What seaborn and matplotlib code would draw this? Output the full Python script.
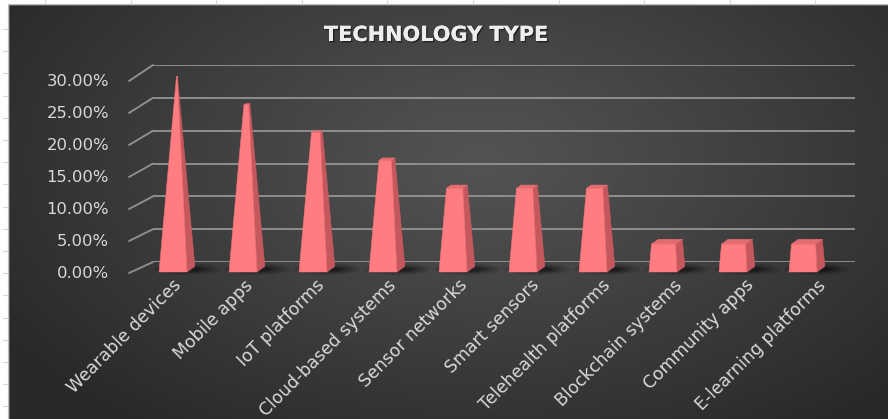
import numpy as np
import pandas as pd
import matplotlib
matplotlib.use("Agg")
import matplotlib.pyplot as plt
import seaborn as sns
from matplotlib.patches import Polygon, Ellipse, Rectangle
from matplotlib.lines import Line2D
from matplotlib.transforms import ScaledTranslation, blended_transform_factory
import matplotlib.patheffects as pe

# ---------------- data ----------------
categories = ["Wearable devices", "Mobile apps", "IoT platforms", "Cloud-based systems",
              "Sensor networks", "Smart sensors", "Telehealth platforms",
              "Blockchain systems", "Community apps", "E-learning platforms"]
shares = [29.17, 25.00, 20.83, 16.67, 12.50, 12.50, 12.50, 4.17, 4.17, 4.17]
y_ticks = [0, 5, 10, 15, 20, 25, 30]
y_labels = ["0.00%", "5.00%", "10.00%", "15.00%", "20.00%", "25.00%", "30.00%"]
title = "TECHNOLOGY TYPE"

sns.set_theme(style="white")
plt.rcParams["font.family"] = ["DejaVu Sans"]

W, H = 888, 419
fig = plt.figure(figsize=(8.88, 4.19), dpi=100)


def fx(px):
    return px / W


def fy(py):
    return 1 - py / H


# ---------------- background ----------------
bg = fig.add_axes([0, 0, 1, 1])
bg.set_axis_off()
yy, xx = np.mgrid[0:H, 0:W]
r = np.sqrt(((xx - 480) / 560.0) ** 2 + ((yy - 160) / 330.0) ** 2)
r = np.clip(r, 0, 1) ** 1.1
inner = np.array([0x53, 0x53, 0x53]) / 255.0
outer = np.array([0x29, 0x29, 0x29]) / 255.0
img = inner[None, None, :] * (1 - r[..., None]) + outer[None, None, :] * r[..., None]
bg.imshow(img, extent=[0, W, H, 0], aspect="auto", interpolation="bilinear")
bg.set_xlim(0, W)
bg.set_ylim(H, 0)
bg.add_patch(Rectangle((0, 0), 8, H, color="white", zorder=3))
bg.add_patch(Rectangle((0, 0), W, 4, color="white", zorder=3))
bg.plot([8, 8], [4, H], color="#bdbdbd", lw=0.8, zorder=4)
bg.plot([8, W], [4, 4], color="#bdbdbd", lw=0.8, zorder=4)
for k in range(18):
    yk = 29 + 22.2 * k
    if yk < H:
        bg.plot([3, 8], [yk, yk], color="#d6d6d6", lw=0.8, zorder=4)
for k in range(11):
    xk = 45 + 85.6 * k
    if xk < W:
        bg.plot([xk, xk], [0, 4], color="#d6d6d6", lw=0.8, zorder=4)

# ---------------- back wall gridlines ----------------
ax_back = fig.add_axes([fx(153), fy(262), fx(855) - fx(153), fy(65) - fy(262)])
ax_back.set_ylim(0, 30)
ax_back.set_xlim(0, 1)
ax_back.set_axis_off()
ax_back.hlines(y_ticks, 0, 1, color="#8e8e8e", lw=1.4)

# ---------------- front value axis (labels + connectors) ----------------
ax_front = fig.add_axes([fx(129), fy(273), fx(831) - fx(129), fy(81) - fy(273)])
ax_front.set_ylim(0, 30)
ax_front.set_xlim(0, 1)
ax_front.set_axis_off()
lab_tr = blended_transform_factory(fig.transFigure, ax_front.transData)
for v, lab in zip(y_ticks, y_labels):
    ax_front.text(fx(109), v, lab, transform=lab_tr, ha="right", va="center",
                  fontsize=11.8, color="#d9d9d9")
    f = fig.transFigure.inverted().transform(ax_front.transData.transform((0, v)))
    b = fig.transFigure.inverted().transform(ax_back.transData.transform((0, v)))
    fig.add_artist(Line2D([f[0], b[0]], [f[1], b[1]], transform=fig.transFigure,
                          color="#8e8e8e", lw=1.4))

# ---------------- bars ----------------
ax = fig.add_axes([fx(129), fy(272), fx(831) - fx(129), fy(74) - fy(272)])
df = pd.DataFrame({"category": categories, "share": shares})
sns.barplot(data=df, x="category", y="share", width=0.4, color="#FF7C80", ax=ax)
ax.set_xlim(-0.629, 9.4)
ax.set_ylim(0, 30)
ax.patch.set_visible(False)
for s in ax.spines.values():
    s.set_visible(False)
ax.set_xlabel("")
ax.set_ylabel("")
ax.set_yticks([])

p00 = ax.transData.transform((0, 0))
sx = ax.transData.transform((1, 0))[0] - p00[0]
sy = ax.transData.transform((0, 1))[1] - p00[1]

a_px, b_px = 0.28, 0.2   # oblique projection of depth
vmax = 30.0

bars = list(ax.patches)
for p in bars:
    x0, w, v = p.get_x(), p.get_width(), p.get_height()
    p.remove()
    xc = x0 + w / 2
    Wp = w * sx

    def P(dx, z, h):
        return (xc + (dx + a_px * z) / sx, h + (b_px * z) / sy)

    s_top = Wp * (1 - v / vmax)
    zf = (Wp - s_top) / 2
    zb = (Wp + s_top) / 2

    for ew, eh, al, dxs in [(66, 12, 0.10, 10), (56, 9, 0.14, 9), (46, 7, 0.2, 8), (36, 5, 0.25, 7)]:
        ax.add_patch(Ellipse(P(dxs, Wp * 0.5, 0), ew / sx, eh / sy, color="black",
                             alpha=al, lw=0, zorder=1, clip_on=False))

    right = [P(Wp / 2, 0, 0), P(Wp / 2, Wp, 0), P(s_top / 2, zb, v), P(s_top / 2, zf, v)]
    top = [P(-s_top / 2, zf, v), P(s_top / 2, zf, v), P(s_top / 2, zb, v), P(-s_top / 2, zb, v)]
    front = [P(-Wp / 2, 0, 0), P(Wp / 2, 0, 0), P(s_top / 2, zf, v), P(-s_top / 2, zf, v)]
    ax.add_patch(Polygon(right, closed=True, fc="#C5585C", ec="#C5585C", lw=0.4, zorder=3, clip_on=False))
    ax.add_patch(Polygon(top, closed=True, fc="#E46C70", ec="#E46C70", lw=0.4, zorder=3, clip_on=False))
    ax.add_patch(Polygon(front, closed=True, fc="#FF7C80", ec="#F07378", lw=0.4, zorder=4, clip_on=False))

# category labels
ax.set_xticks(range(len(categories)))
ax.set_xticklabels(categories, rotation=45, ha="right", va="top", rotation_mode="anchor")
ax.tick_params(axis="x", length=0, pad=3, labelsize=12.4, labelcolor="#d9d9d9")
for i, lab in enumerate(ax.get_xticklabels()):
    off = ScaledTranslation((-1 + 1.6 * i) / 100, 0, fig.dpi_scale_trans)
    lab.set_transform(lab.get_transform() + off)

# title
fig.text(fx(436), fy(35), title, ha="center", va="center", fontsize=15,
         fontweight="bold", color="#eeeeee",
         path_effects=[pe.withSimplePatchShadow(offset=(1, -1), shadow_rgbFace="black", alpha=0.5),
                       pe.Normal()])

fig.savefig("out.png", dpi=100)
